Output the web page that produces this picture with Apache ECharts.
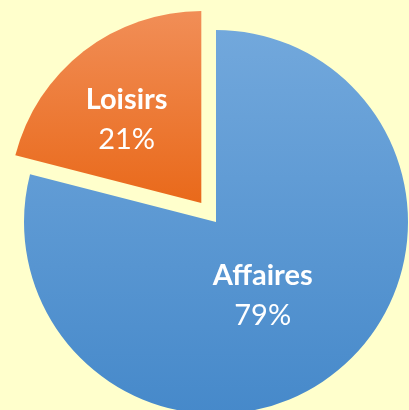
<!DOCTYPE html>
<html><head><meta charset="utf-8">
<script src="https://cdn.jsdelivr.net/npm/echarts@6/dist/echarts.min.js"></script>
<style>html,body{margin:0;padding:0;background:#FFFFCC;}#c{width:409px;height:410px;}</style>
</head><body><div id="c"></div>
<script>
const categories = ['Affaires', 'Loisirs'];
const values = [79, 21];

const chart = echarts.init(document.getElementById('c'), null, {renderer: 'canvas'});
const grad = (a, b) => new echarts.graphic.LinearGradient(0, 0, 0, 1, [{offset: 0, color: a}, {offset: 1, color: b}]);
const styles = [
  {color: grad('#72A8DC', '#4689CA'), padding: [0, 28, 10, 0], selected: false},
  {color: grad('#F18E57', '#E9691A'), padding: [0, 28, 10, 0], selected: true}
];
chart.setOption({
  backgroundColor: '#FFFFCC',
  animation: false,
  series: [{
    type: 'pie',
    center: [216, 222],
    radius: 192,
    startAngle: 90,
    clockwise: true,
    selectedMode: 'multiple',
    selectedOffset: 24,
    label: {
      show: true,
      position: 'inside',
      formatter: p => '{b|' + p.name + '}\n{c|' + p.value + '%}',
      rich: {
        b: {fontFamily: 'Lato', fontWeight: 'bold', fontSize: 29, color: '#fff', lineHeight: 40},
        c: {fontFamily: 'Lato', fontSize: 29, color: '#fff', lineHeight: 40}
      }
    },
    labelLine: {show: false},
    emphasis: {disabled: true},
    data: categories.map((n, i) => ({
      name: n, value: values[i], selected: styles[i].selected,
      itemStyle: {color: styles[i].color, borderWidth: 0},
      label: {padding: styles[i].padding}
    }))
  }]
});
</script></body></html>
